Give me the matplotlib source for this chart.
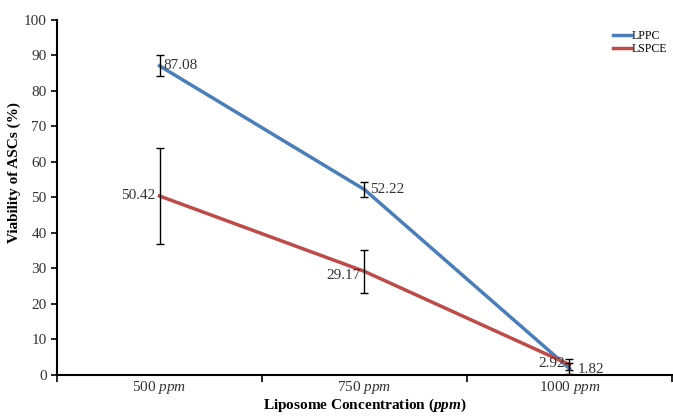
import matplotlib
matplotlib.use("Agg")
import matplotlib.pyplot as plt

plt.rcParams['font.family'] = ['Liberation Serif', 'DejaVu Serif']
plt.rcParams['mathtext.fontset'] = 'custom'
plt.rcParams['mathtext.rm'] = 'Liberation Serif'
plt.rcParams['mathtext.it'] = 'Liberation Serif:italic'
plt.rcParams['mathtext.bf'] = 'Liberation Serif:bold'
plt.rcParams['mathtext.bfit'] = 'Liberation Serif:italic:bold'

# data
categories = ["500", "750", "1000"]
lppc = [87.08, 52.22, 1.82]
lppc_err = [3.0, 2.0, 1.5]
lspce = [50.42, 29.17, 2.92]
lspce_err = [13.5, 6.0, 1.5]
lppc_labels = ["87.08", "52.22", "1.82"]
lspce_labels = ["50.42", "29.17", "2.92"]

blue = "#4a7ebb"
red = "#be4b48"

fig = plt.figure(figsize=(6.73, 4.16), dpi=100)
ax = fig.add_axes([0.0847, 0.0986, 0.9138, 0.8534])

x = list(range(len(categories)))
ax.plot(x, lppc, color=blue, lw=2.5, label="LPPC", zorder=3)
ax.plot(x, lspce, color=red, lw=2.5, label="LSPCE", zorder=3)
ax.errorbar(x, lppc, yerr=lppc_err, fmt="none", ecolor="black", elinewidth=1, capsize=3, zorder=4)
ax.errorbar(x, lspce, yerr=lspce_err, fmt="none", ecolor="black", elinewidth=1, capsize=3, zorder=4)

# data labels
fs = 11
ax.annotate(lppc_labels[0], (x[0], lppc[0]), xytext=(3, 0), textcoords="offset points", ha="left", va="center", fontsize=fs, color="#333333")
ax.annotate(lppc_labels[1], (x[1], lppc[1]), xytext=(4, 0), textcoords="offset points", ha="left", va="center", fontsize=fs, color="#333333")
ax.annotate(lppc_labels[2], (x[2], lppc[2]), xytext=(6, -1), textcoords="offset points", ha="left", va="center", fontsize=fs, color="#333333")
ax.annotate(lspce_labels[0], (x[0], lspce[0]), xytext=(-3, 0), textcoords="offset points", ha="right", va="center", fontsize=fs, color="#333333")
ax.annotate(lspce_labels[1], (x[1], lspce[1]), xytext=(-3, -3), textcoords="offset points", ha="right", va="center", fontsize=fs, color="#333333")
ax.annotate(lspce_labels[2], (x[2], lspce[2]), xytext=(-3, 1), textcoords="offset points", ha="right", va="center", fontsize=fs, color="#333333")

ax.set_ylim(0, 100)
ax.set_yticks(range(0, 101, 10))
ax.set_xlim(-0.5, 2.5)
ax.set_xticks([-0.5, 0.5, 1.5, 2.5])
ax.set_xticklabels([])
ax.set_xticks(x, minor=True)
ax.set_xticklabels([c + r" $\mathit{ppm}$" for c in categories], minor=True, fontsize=11, color="#333333")
ax.tick_params(axis="x", which="minor", length=0, pad=3)
ax.tick_params(axis="x", which="major", length=5, width=1.2, direction="out")
ax.tick_params(axis="y", length=4, width=1.2, labelsize=11, labelcolor="#333333")

for s in ["top", "right"]:
    ax.spines[s].set_visible(False)
for s in ["left", "bottom"]:
    ax.spines[s].set_linewidth(1.5)

ax.set_ylabel("Viability of ASCs (%)", fontsize=11, fontweight="bold", labelpad=0)
ax.yaxis.set_label_coords(-0.058, 0.569)
ax.set_xlabel(r"Liposome Concentration ($\mathbfit{ppm}$)", fontsize=11, fontweight="bold")
ax.xaxis.set_label_coords(0.5, -0.062)

ax.legend(loc="upper right", bbox_to_anchor=(1.0, 0.985), frameon=False, fontsize=8.5,
          handlelength=1.5, handletextpad=0.1, labelspacing=0.1, borderaxespad=0)

fig.savefig("out.png", dpi=100)
